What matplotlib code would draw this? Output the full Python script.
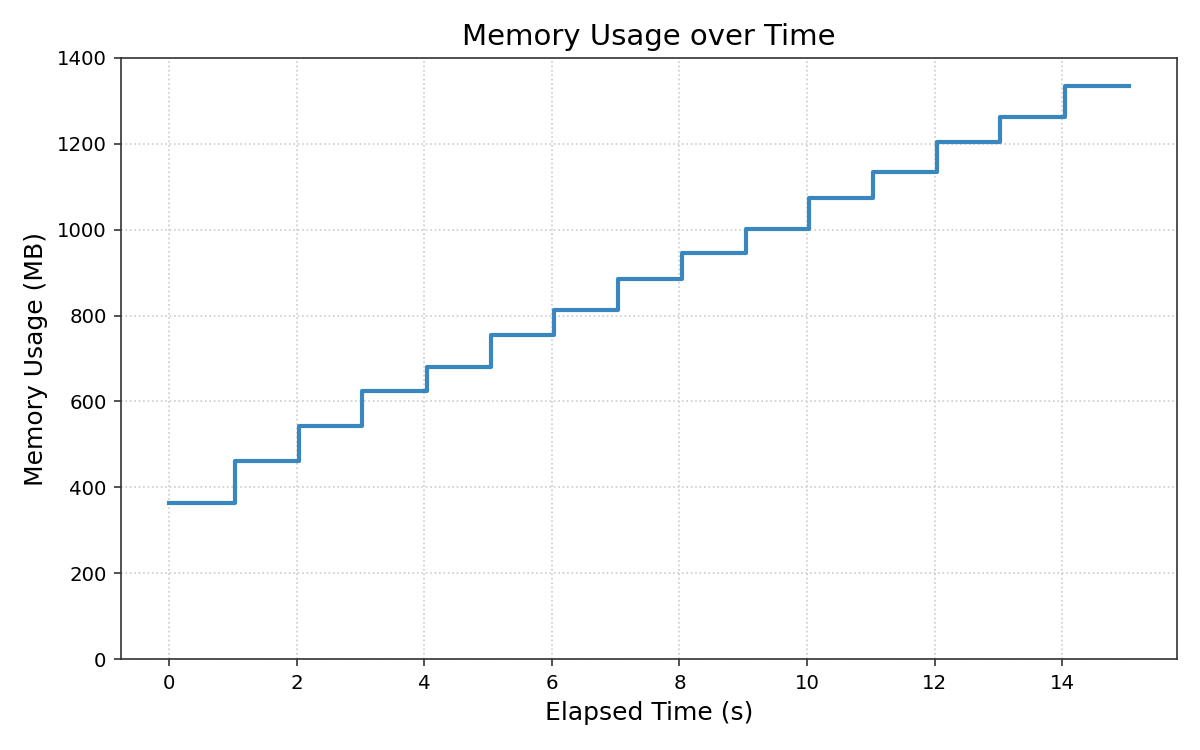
import matplotlib.pyplot as plt
import numpy as np

# %% data
elapsed = [0, 1.03, 2.03, 3.02, 4.04, 5.04, 6.04, 7.04, 8.04, 9.04,
           10.03, 11.04, 12.03, 13.02, 14.04, 15.05]
memory = [363, 461, 543, 624, 680, 755, 813, 885, 945, 1002,
          1074, 1133, 1204, 1263, 1335, 1335]

# %% plot
fig, ax = plt.subplots(figsize=(8, 5), dpi=150)
ax.plot(elapsed, memory, drawstyle='steps-post', color='#3a87c0', lw=2.0)

ax.set_ylim(0, 1400)
ax.set_title('Memory Usage over Time', fontsize=14)
ax.set_xlabel('Elapsed Time (s)', fontsize=12)
ax.set_ylabel('Memory Usage (MB)', fontsize=12)
ax.tick_params(labelsize=9.5, color='#333333')
for s in ax.spines.values():
    s.set_color('#333333')
ax.grid(True, ls=':', color='#cccccc', lw=0.8)

fig.subplots_adjust(left=0.101, right=0.981, top=0.923, bottom=0.121)
fig.savefig('out.png')
